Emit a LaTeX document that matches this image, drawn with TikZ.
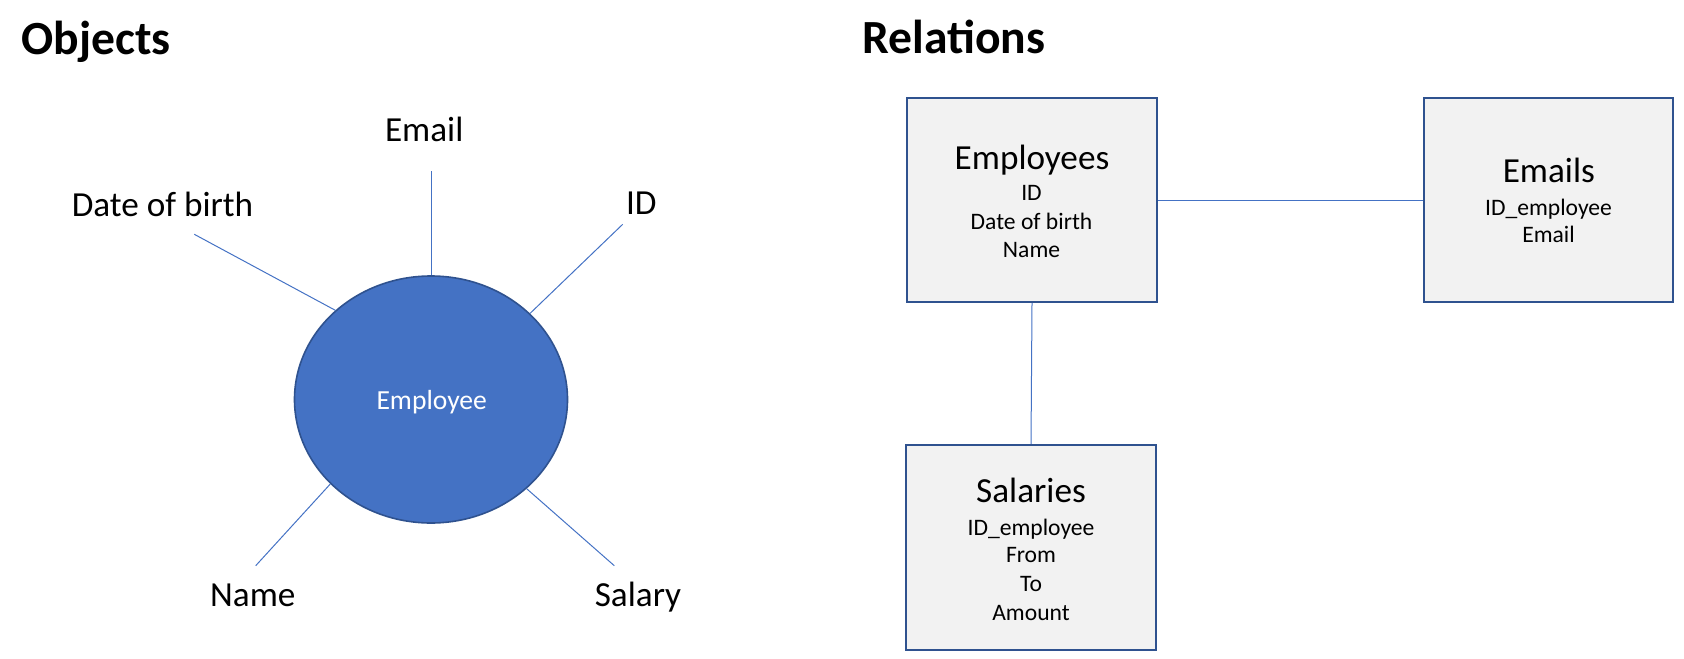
\documentclass[tikz,border=0pt]{standalone}
\usepackage{fontspec}
\setmainfont{Carlito}
\usetikzlibrary{shapes.geometric}
\definecolor{accent}{HTML}{4472C4}
\definecolor{accentdark}{HTML}{2F528F}
\definecolor{boxfill}{HTML}{F2F2F2}
\begin{document}
\begin{tikzpicture}[x=0.5pt,y=-0.5pt,
  heading/.style={font=\fontsize{23.8}{28}\selectfont\bfseries, inner sep=0, anchor=base west},
  lbl/.style={font=\fontsize{17.6}{21}\selectfont, inner sep=0, anchor=base},
  attr/.style={font=\fontsize{11.8}{14}\selectfont, inner sep=0, anchor=base},
  ent/.style={draw=accentdark, line width=1.1pt, fill=boxfill, minimum width=125pt, minimum height=102pt, inner sep=0},
  spoke/.style={draw=accent, line width=0.5pt},
]
\useasboundingbox (0,0) rectangle (1684,658);

% headings
\node[heading] (hobj) at (21,54.5) {Objects};
\node[heading] (hrel) at (862,54) {Relations};

% object side
\node[ellipse, fill=accent, draw=accentdark, line width=0.8pt,
      minimum width=136.5pt, minimum height=123.5pt, inner sep=0] (emp) at (431,399.5) {};
\node[font=\fontsize{13.8}{16}\selectfont, text=white, inner sep=0, anchor=base] (emplbl) at (431.7,409) {Employee};

\node[lbl] (lemail) at (424.2,141.7) {Email};
\node[lbl] (ldob) at (162.5,216.7) {Date of birth};
\node[lbl] (lid) at (641.3,214) {ID};
\node[lbl] (lname) at (252.8,606.7) {Name};
\node[lbl] (lsal) at (638,606.7) {Salary};

\coordinate (cemail) at (431,171);
\coordinate (cdob) at (194.3,234.3);
\coordinate (cid) at (622.7,224.3);
\coordinate (cname) at (255.7,565.7);
\coordinate (csal) at (614.3,565.7);

\draw[spoke] (cemail) -- (emp.90);
\draw[spoke] (cdob) -- (emp.137.9);
\draw[spoke] (cid) -- (emp.41.4);
\draw[spoke] (cname) -- (emp.220.5);
\draw[spoke] (csal) -- (emp.317.9);

% relations side
\node[ent] (tEmp) at (1032,200) {};
\node[ent, minimum width=124.5pt] (tMail) at (1548.5,200) {};
\node[ent, minimum height=102.5pt] (tSal) at (1031,547.5) {};

\draw[spoke] (tEmp.east) -- (tMail.west);
\draw[spoke] (tEmp.south) -- (tSal.north);

\node[lbl] (tEmpT) at (1032,169.3) {Employees};
\node[attr] (tEmp1) at (1031.5,200.7) {ID};
\node[attr] (tEmp2) at (1031.5,229) {Date of birth};
\node[attr] (tEmp3) at (1031.5,257.7) {Name};

\node[lbl] (tMailT) at (1548.8,182.7) {Emails};
\node[attr] (tMail1) at (1548.5,215) {ID\_employee};
\node[attr] (tMail2) at (1548.5,242.7) {Email};

\node[lbl] (tSalT) at (1031,502.7) {Salaries};
\node[attr] (tSal1) at (1031,535) {ID\_employee};
\node[attr] (tSal2) at (1031,562.7) {From};
\node[attr] (tSal3) at (1031,591) {To};
\node[attr] (tSal4) at (1031,620) {Amount};
\end{tikzpicture}
\end{document}
